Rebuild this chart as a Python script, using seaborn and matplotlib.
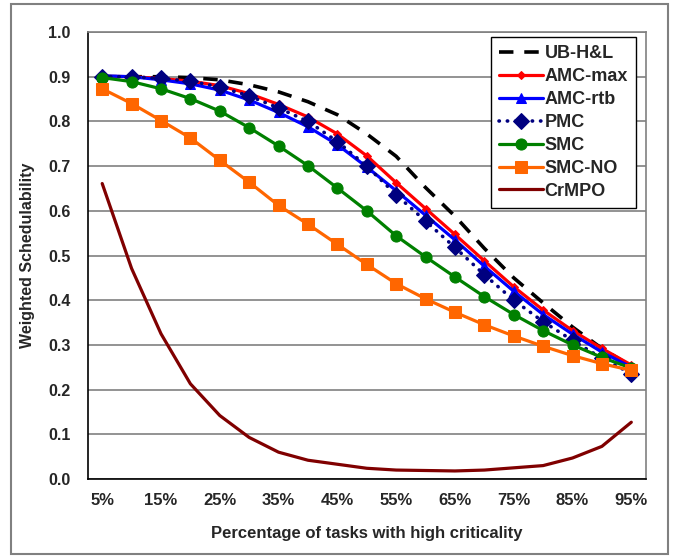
import numpy as np
import pandas as pd
import matplotlib
matplotlib.use("Agg")
import matplotlib.pyplot as plt
from matplotlib.patches import Rectangle
import seaborn as sns

# percentuali di task ad alta criticita
pct = ['5%', '10%', '15%', '20%', '25%', '30%', '35%', '40%', '45%', '50%',
       '55%', '60%', '65%', '70%', '75%', '80%', '85%', '90%', '95%']

ub_hl = [0.900, 0.900, 0.900, 0.898, 0.893, 0.882, 0.866, 0.844, 0.815, 0.772,
         0.722, 0.652, 0.588, 0.516, 0.450, 0.394, 0.340, 0.292, 0.252]
amc_max = [0.901, 0.900, 0.896, 0.890, 0.880, 0.862, 0.838, 0.810, 0.772, 0.723,
           0.663, 0.605, 0.547, 0.488, 0.430, 0.378, 0.332, 0.292, 0.255]
amc_rtb = [0.902, 0.900, 0.893, 0.884, 0.870, 0.848, 0.820, 0.788, 0.748, 0.698,
           0.645, 0.590, 0.535, 0.476, 0.420, 0.368, 0.324, 0.284, 0.250]
pmc = [0.900, 0.900, 0.896, 0.890, 0.877, 0.857, 0.830, 0.800, 0.755, 0.700,
       0.636, 0.577, 0.518, 0.457, 0.400, 0.352, 0.310, 0.270, 0.236]
smc = [0.898, 0.889, 0.873, 0.851, 0.823, 0.786, 0.745, 0.701, 0.651, 0.600,
       0.544, 0.497, 0.452, 0.408, 0.368, 0.332, 0.300, 0.272, 0.248]
smc_no = [0.873, 0.840, 0.802, 0.763, 0.713, 0.664, 0.612, 0.570, 0.525, 0.480,
          0.437, 0.403, 0.373, 0.345, 0.320, 0.297, 0.276, 0.258, 0.243]
crmpo = [0.661, 0.471, 0.325, 0.213, 0.142, 0.093, 0.060, 0.042, 0.033, 0.024,
         0.020, 0.019, 0.018, 0.020, 0.025, 0.030, 0.047, 0.073, 0.127]

series = [
    # nome, valori, colore, marker, dimensione, stile linea
    ('UB-H&L', ub_hl, 'black', '', 0, (0, (4, 3))),
    ('AMC-max', amc_max, '#FF0000', 'D', 4.5, '-'),
    ('AMC-rtb', amc_rtb, '#0000FF', '^', 7.5, '-'),
    ('PMC', pmc, '#000080', 'D', 8, (0, (0.1, 2.2))),
    ('SMC', smc, '#008000', 'o', 8, '-'),
    ('SMC-NO', smc_no, '#FF6600', 's', 8, '-'),
    ('CrMPO', crmpo, '#800000', '', 0, '-'),
]

sns.set_style("white")
plt.rcParams['font.family'] = ['Liberation Sans', 'DejaVu Sans']
plt.rcParams['font.weight'] = 'bold'

fig = plt.figure(figsize=(6.74, 5.57), dpi=100)
ax = fig.add_axes([87.5 / 674, 78 / 557, 558.5 / 674, 447 / 557])

x = np.arange(len(pct))
for name, vals, col, mk, ms, ls in series:
    df = pd.DataFrame({'x': x, 'y': vals})
    lw = 2.6 if name in ('UB-H&L', 'PMC') else 2.3
    sns.lineplot(data=df, x='x', y='y', ax=ax, color=col, label=name,
                 marker=mk if mk else None, markersize=ms, markeredgecolor=col,
                 markerfacecolor=col, linestyle=ls, linewidth=lw,
                 dash_capstyle='round' if name == 'PMC' else 'butt')

ax.set_xlim(-0.5, len(pct) - 0.5)
ax.set_ylim(0, 1.0)
ax.set_yticks(np.arange(0, 1.01, 0.1))
ax.set_yticklabels([f'{v:.1f}' for v in np.arange(0, 1.01, 0.1)], fontsize=11.5, fontweight='bold')
ax.yaxis.grid(True, color='#808080', linewidth=1.2)
ax.set_axisbelow(True)

# tacche tra le categorie, etichette una si e una no
ax.set_xticks(np.arange(-0.5, len(pct), 1.0))
ax.set_xticklabels([])
ax.set_xticks(x[::2], minor=True)
ax.set_xticklabels(pct[::2], minor=True, fontsize=12, fontweight='bold')
ax.tick_params(axis='x', which='major', length=5, width=1, direction='out', color='black')
ax.tick_params(axis='x', which='minor', length=0, pad=10)
ax.tick_params(axis='y', length=5, width=1, direction='out', color='black', pad=7)

for s in ['left', 'bottom']:
    ax.spines[s].set_color('black')
    ax.spines[s].set_linewidth(1.2)
for s in ['top', 'right']:
    ax.spines[s].set_color('#808080')
    ax.spines[s].set_linewidth(1.2)

ax.set_xlabel('Percentage of tasks with high criticality', fontsize=12, fontweight='bold', labelpad=13)
ax.set_ylabel('Weighted Schedulability', fontsize=11.5, fontweight='bold', labelpad=10)

h, l = ax.get_legend_handles_labels()
leg = ax.legend(h, l, loc='upper right', bbox_to_anchor=(0.982, 0.989), borderaxespad=0,
                frameon=True, fancybox=False, framealpha=1, edgecolor='black',
                prop={'weight': 'bold', 'size': 13}, handlelength=2.4,
                handletextpad=0.1, labelspacing=0.33, borderpad=0.45)
leg.get_frame().set_linewidth(1.0)

fig.add_artist(Rectangle((11 / 674, 3 / 557), 657 / 674, 550 / 557, transform=fig.transFigure,
                         fill=False, edgecolor='#808080', linewidth=1.5))

fig.savefig('out.png', dpi=100)
